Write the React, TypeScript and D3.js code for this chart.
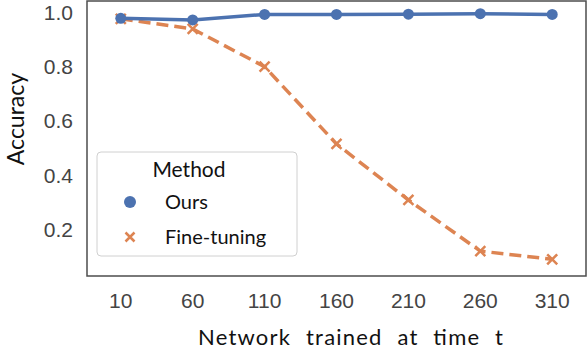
import * as d3 from 'd3';
import React, { useEffect, useRef } from 'react';

// Data
const steps = ['10', '60', '110', '160', '210', '260', '310'];
const ours = [0.978, 0.972, 0.992, 0.992, 0.993, 0.995, 0.992];
const fineTuning = [0.976, 0.939, 0.8, 0.516, 0.31, 0.122, 0.092];
const yTicks = [0.2, 0.4, 0.6, 0.8, 1.0];

const width = 588;
const height = 350;
const plot = { left: 87, right: 586, top: 1, bottom: 276 };

const blue = '#4c72b0';
const orange = '#dd8452';
const tickFont = '"Liberation Sans", Arial, sans-serif';
const labelFont = 'Lato, "DejaVu Sans", sans-serif';

export default function App() {
  const svgRef = useRef<SVGSVGElement>(null);

  useEffect(() => {
    const svg = d3.select(svgRef.current);
    svg.selectAll('*').remove();

    const x = d3.scalePoint<string>().domain(steps).range([plot.left, plot.right]).padding(0.47);
    const y = d3.scaleLinear().domain([0.0305, 1.0415]).range([plot.bottom, plot.top]);

    // frame
    svg.append('rect')
      .attr('x', plot.left).attr('y', plot.top)
      .attr('width', plot.right - plot.left).attr('height', plot.bottom - plot.top)
      .attr('fill', 'white').attr('stroke', '#4d4d4d').attr('stroke-width', 1.5);

    // y tick labels
    svg.append('g').selectAll('text').data(yTicks).enter().append('text')
      .attr('x', 73).attr('y', d => y(d)).attr('dy', '0.35em')
      .attr('text-anchor', 'end')
      .attr('font-family', tickFont).attr('font-size', 21).attr('fill', '#444')
      .text(d => d.toFixed(1));

    // x tick labels
    svg.append('g').selectAll('text').data(steps).enter().append('text')
      .attr('x', d => x(d)!).attr('y', 308)
      .attr('text-anchor', 'middle')
      .attr('font-family', tickFont).attr('font-size', 21).attr('fill', '#444')
      .text(d => d);

    // axis labels
    svg.append('text')
      .attr('transform', `translate(24, 119) rotate(-90)`)
      .attr('text-anchor', 'middle')
      .attr('font-family', labelFont).attr('font-size', 23).attr('fill', '#111')
      .text('Accuracy');
    svg.append('text')
      .attr('x', 198).attr('y', 345)
      .attr('textLength', 305).attr('lengthAdjust', 'spacing')
      .attr('word-spacing', 8)
      .attr('font-family', labelFont).attr('font-size', 22).attr('fill', '#111')
      .text('Network trained at time t');

    const line = d3.line<number>().x((_, i) => x(steps[i])!).y(d => y(d));

    // fine-tuning (dashed, x markers)
    svg.append('path').datum(fineTuning)
      .attr('d', line).attr('fill', 'none')
      .attr('stroke', orange).attr('stroke-width', 3.5)
      .attr('stroke-dasharray', '12,6');
    const xMark = (g: d3.Selection<SVGGElement, unknown, null, undefined>, cx: number, cy: number, s: number) => {
      g.append('path')
        .attr('d', `M${cx - s},${cy - s}L${cx + s},${cy + s}M${cx - s},${cy + s}L${cx + s},${cy - s}`)
        .attr('stroke', orange).attr('stroke-width', 2.5).attr('fill', 'none');
    };
    const ftG = svg.append('g');
    fineTuning.forEach((v, i) => xMark(ftG, x(steps[i])!, y(v), 5));

    // ours (solid, dots)
    svg.append('path').datum(ours)
      .attr('d', line).attr('fill', 'none')
      .attr('stroke', blue).attr('stroke-width', 3.5);
    svg.append('g').selectAll('circle').data(ours).enter().append('circle')
      .attr('cx', (_, i) => x(steps[i])!).attr('cy', d => y(d))
      .attr('r', 5.5).attr('fill', blue);

    // legend
    const lg = svg.append('g');
    lg.append('rect')
      .attr('x', 97).attr('y', 152).attr('width', 200).attr('height', 104)
      .attr('rx', 4).attr('fill', 'white').attr('fill-opacity', 0.8)
      .attr('stroke', '#d0d0d0').attr('stroke-width', 1);
    lg.append('text')
      .attr('x', 189).attr('y', 170).attr('dy', '0.35em').attr('text-anchor', 'middle')
      .attr('font-family', labelFont).attr('font-size', 21).attr('fill', '#111')
      .text('Method');
    lg.append('circle').attr('cx', 130).attr('cy', 202).attr('r', 6).attr('fill', blue);
    lg.append('text')
      .attr('x', 165).attr('y', 202).attr('dy', '0.35em')
      .attr('font-family', labelFont).attr('font-size', 20).attr('fill', '#111')
      .text('Ours');
    xMark(lg, 130, 237, 4.5);
    lg.append('text')
      .attr('x', 165).attr('y', 237).attr('dy', '0.35em')
      .attr('font-family', labelFont).attr('font-size', 20).attr('fill', '#111')
      .text('Fine-tuning');
  });

  return (
    <svg ref={svgRef} width={width} height={height}
      style={{ position: 'absolute', left: 0, top: 0, background: 'white' }} />
  );
}
